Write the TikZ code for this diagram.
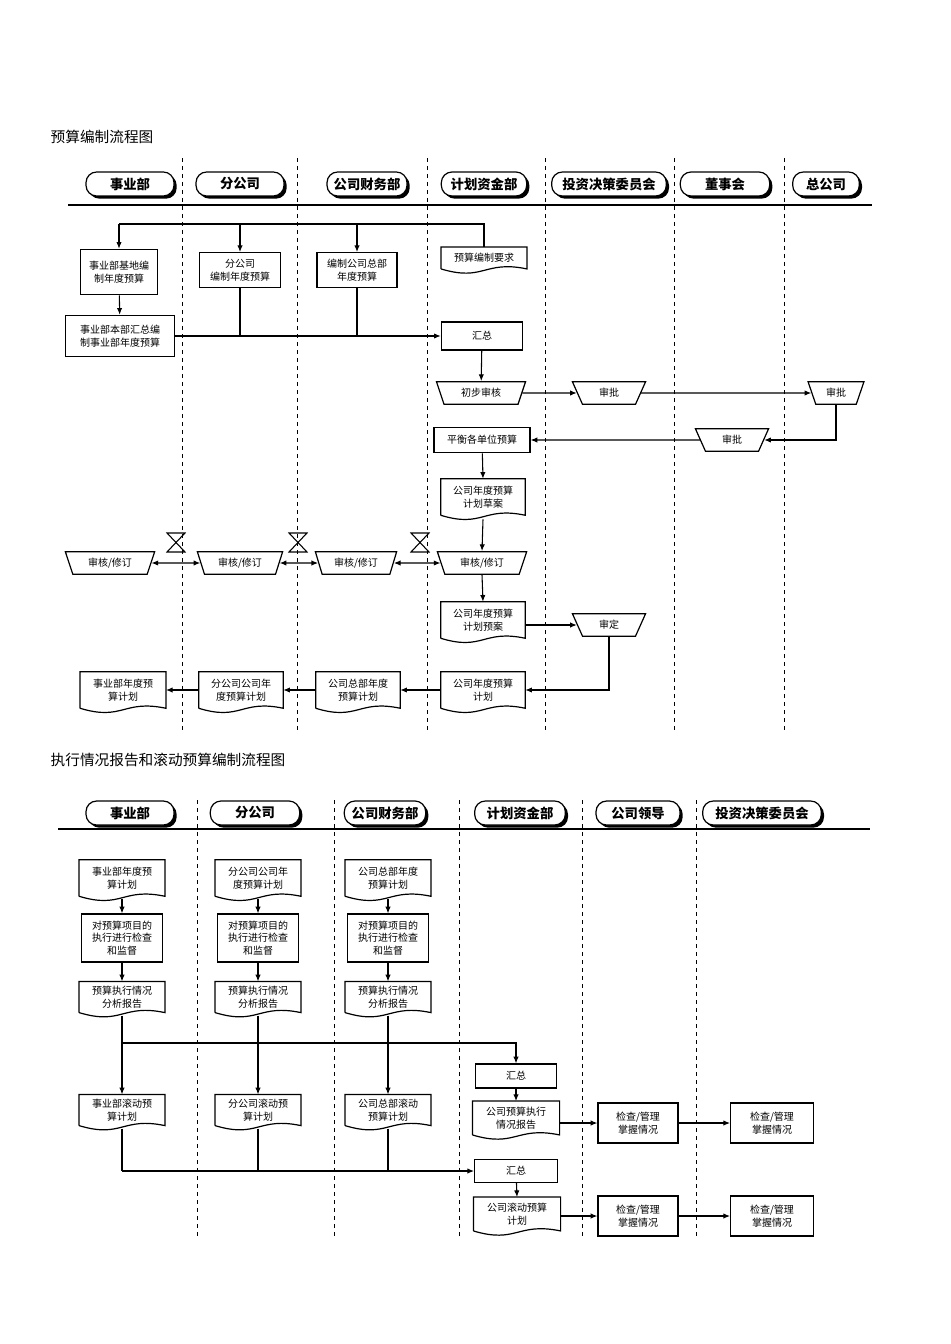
\documentclass[tikz,border=0pt]{standalone}
\usepackage{fontspec}
\setmainfont{Noto Sans CJK SC}
\usetikzlibrary{shapes.geometric,shadows,calc,arrows.meta}
\newcommand\fz{\fontsize{7.5}{9.5}\selectfont}
\newcommand\docshape[1]{\draw[line width=0.9pt] (#1.south west) -- (#1.north west) -- (#1.north east) -- (#1.south east) .. controls ($(#1.south)+(0,-9)$) and ($(#1.south)+(0,13)$) .. (#1.south west);}
\newcommand\hourglass[1]{\draw[line width=0.8pt] (#1-9,533) -- (#1+9,533) -- (#1-9,552) -- (#1+9,552) -- cycle;}
\tikzset{
 box/.style={draw,line width=0.9pt,align=center,font=\fz,inner sep=1pt,fill=white},
 doc/.style={align=center,font=\fz,inner sep=1pt},
 trap/.style={draw,line width=0.9pt,trapezium,shape border rotate=180,trapezium stretches=true,trapezium angle=70,font=\fz,inner sep=1pt,minimum height=17pt,fill=white},
 hdr/.style={draw,line width=0.9pt,rounded corners=8pt,fill=white,drop shadow={shadow xshift=2pt,shadow yshift=-2pt,fill=black,opacity=1},minimum height=18pt,font=\bfseries\fontsize{10}{12}\selectfont},
 lane/.style={dashed,line width=0.6pt},
 arr/.style={-{Latex[length=5pt,width=4pt]},line width=0.8pt},
 barr/.style={{Latex[length=5pt,width=4pt]}-{Latex[length=5pt,width=4pt]},line width=0.8pt},
 ln/.style={line width=0.8pt}
}
\begin{document}
\begin{tikzpicture}[x=0.75pt,y=-0.75pt]
\useasboundingbox[fill=white] (0,0) rectangle (950,1344);
\node[anchor=west,font=\fontsize{11}{13}\selectfont] (t1) at (46,137) {预算编制流程图};
\node[anchor=west,font=\fontsize{11}{13}\selectfont] (t2) at (46,760) {执行情况报告和滚动预算编制流程图};
% ---------- diagram 1
\foreach \x in {182,297,427,545,674,784} \draw[lane] (\x,158) -- (\x,730);
\draw[line width=1.2pt] (68,205) -- (872,205);
\node[hdr,minimum width=66pt] (h11) at (130,184) {事业部};
\node[hdr,minimum width=66pt] (h12) at (240,184) {分公司};
\node[hdr,minimum width=60pt] (h13) at (367,184) {公司财务部};
\node[hdr,minimum width=64pt] (h14) at (484,184) {计划资金部};
\node[hdr,minimum width=86pt] (h15) at (609,184) {投资决策委员会};
\node[hdr,minimum width=67pt] (h16) at (725,184) {董事会};
\node[hdr,minimum width=50pt] (h17) at (826,184) {总公司};

\node[box,minimum width=58pt,minimum height=34pt] (a1) at (119,272) {事业部基地编\\制年度预算};
\node[box,minimum width=82pt,minimum height=31pt] (a2) at (120,336) {事业部本部汇总编\\制事业部年度预算};
\node[box,minimum width=61pt,minimum height=26pt] (b1) at (240,270) {分公司\\编制年度预算};
\node[box,minimum width=60pt,minimum height=26pt] (c1) at (357,270) {编制公司总部\\年度预算};
\node[doc,minimum width=64pt,minimum height=16pt] (d0) at (484,258) {预算编制要求}; \docshape{d0}
\node[box,minimum width=61pt,minimum height=21pt] (d1) at (482,336) {汇总};
\node[trap,minimum width=67pt] (d2) at (481,393) {初步审核};
\node[trap,minimum width=55pt] (e1) at (609,393) {审批};
\node[trap,minimum width=42pt] (g1) at (836,393) {审批};
\node[trap,minimum width=55pt] (f1) at (732,440) {审批};
\node[box,minimum width=72pt,minimum height=19pt] (d3) at (482,440) {平衡各单位预算};
\node[doc,minimum width=63pt,minimum height=27pt] (d4) at (483,497) {公司年度预算\\计划草案}; \docshape{d4}
\node[trap,minimum width=67pt] (r1) at (110,563) {审核/修订};
\node[trap,minimum width=64pt] (r2) at (240,563) {审核/修订};
\node[trap,minimum width=61pt] (r3) at (356,563) {审核/修订};
\node[trap,minimum width=67pt] (r4) at (482,563) {审核/修订};
\hourglass{176}\hourglass{298}\hourglass{420}
\node[doc,minimum width=63pt,minimum height=27pt] (d5) at (483,620) {公司年度预算\\计划预案}; \docshape{d5}
\node[trap,minimum width=55pt] (e2) at (609,625) {审定};
\node[doc,minimum width=64pt,minimum height=27pt] (p1) at (123,690) {事业部年度预\\算计划}; \docshape{p1}
\node[doc,minimum width=63pt,minimum height=27pt] (p2) at (241,690) {分公司公司年\\度预算计划}; \docshape{p2}
\node[doc,minimum width=63pt,minimum height=27pt] (p3) at (358,690) {公司总部年度\\预算计划}; \docshape{p3}
\node[doc,minimum width=63pt,minimum height=27pt] (p4) at (483,690) {公司年度预算\\计划}; \docshape{p4}
\coordinate (bus1) at (0,224);
\draw[ln] (d0.north) |- (a1.north |- bus1);
\draw[arr] (a1.north |- bus1) -- (a1.north);
\draw[arr] (b1.north |- bus1) -- (b1.north);
\draw[arr] (c1.north |- bus1) -- (c1.north);
\draw[arr] (a1) -- (a2);
\draw[arr] (a2.east) -- (d1.west);
\draw[ln] (b1.south) -- (b1.south |- d1.west);
\draw[ln] (c1.south) -- (c1.south |- d1.west);
\draw[arr] (d1) -- (d2);
\draw[arr] (d2.east) -- (e1.west);
\draw[arr] (e1.east) -- (g1.west);
\draw[arr] (g1.south) |- (f1.east);
\draw[arr] (f1.west) -- (d3.east);
\draw[arr] (d3) -- (d4.north);
\draw[arr] ($(d4.south)+(0,4)$) -- (r4.north);
\draw[barr] (r1.east) -- (r2.west);
\draw[barr] (r2.east) -- (r3.west);
\draw[barr] (r3.east) -- (r4.west);
\draw[arr] (r4.south) -- (d5.north);
\draw[arr] (d5.east |- e2.west) -- (e2.west);
\draw[arr] (e2.south) |- (p4.east);
\draw[arr] (p4.west) -- (p3.east);
\draw[arr] (p3.west) -- (p2.east);
\draw[arr] (p2.west) -- (p1.east);
% ---------- diagram 2
\begin{scope}
\clip (0,790) rectangle (950,1236);
\foreach \x in {197,334,459,582,696} \draw[lane] (\x,800) -- (\x,1236);
\draw[line width=1.2pt] (58,829) -- (870,829);
\node[hdr,minimum width=66pt] (h21) at (130,813) {事业部};
\node[hdr,minimum width=67pt] (h22) at (255,813) {分公司};
\node[hdr,minimum width=61pt] (h23) at (385,813) {公司财务部};
\node[hdr,minimum width=68pt] (h24) at (520,813) {计划资金部};
\node[hdr,minimum width=63pt] (h25) at (638,813) {公司领导};
\node[hdr,minimum width=89pt] (h26) at (762,813) {投资决策委员会};

\node[doc,minimum width=64pt,minimum height=27pt] (q1) at (122,878) {事业部年度预\\算计划}; \docshape{q1}
\node[doc,minimum width=64pt,minimum height=27pt] (q2) at (258,878) {分公司公司年\\度预算计划}; \docshape{q2}
\node[doc,minimum width=64pt,minimum height=27pt] (q3) at (388,878) {公司总部年度\\预算计划}; \docshape{q3}
\node[box,minimum width=61pt,minimum height=36pt] (m1) at (122,938) {对预算项目的\\执行进行检查\\和监督};
\node[box,minimum width=61pt,minimum height=36pt] (m2) at (258,938) {对预算项目的\\执行进行检查\\和监督};
\node[box,minimum width=61pt,minimum height=36pt] (m3) at (388,938) {对预算项目的\\执行进行检查\\和监督};
\node[doc,minimum width=64pt,minimum height=23pt] (s1) at (122,997) {预算执行情况\\分析报告}; \docshape{s1}
\node[doc,minimum width=64pt,minimum height=23pt] (s2) at (258,997) {预算执行情况\\分析报告}; \docshape{s2}
\node[doc,minimum width=64pt,minimum height=23pt] (s3) at (388,997) {预算执行情况\\分析报告}; \docshape{s3}
\node[doc,minimum width=64pt,minimum height=23pt] (u1) at (122,1110) {事业部滚动预\\算计划}; \docshape{u1}
\node[doc,minimum width=64pt,minimum height=23pt] (u2) at (258,1110) {分公司滚动预\\算计划}; \docshape{u2}
\node[doc,minimum width=64pt,minimum height=23pt] (u3) at (388,1110) {公司总部滚动\\预算计划}; \docshape{u3}
\node[box,minimum width=61pt,minimum height=18pt] (k1) at (516,1076) {汇总};
\node[doc,minimum width=65pt,minimum height=25pt] (k2) at (516,1118) {公司预算执行\\情况报告}; \docshape{k2}
\node[box,minimum width=60pt,minimum height=30pt] (k3) at (638,1123) {检查/管理\\掌握情况};
\node[box,minimum width=62pt,minimum height=30pt] (k4) at (772,1123) {检查/管理\\掌握情况};
\node[box,minimum width=62pt,minimum height=17pt] (n1) at (516,1171) {汇总};
\node[doc,minimum width=65pt,minimum height=25pt] (n2) at (517,1214) {公司滚动预算\\计划}; \docshape{n2}
\node[box,minimum width=60pt,minimum height=30pt] (n3) at (638,1216) {检查/管理\\掌握情况};
\node[box,minimum width=62pt,minimum height=30pt] (n4) at (772,1216) {检查/管理\\掌握情况};
\foreach \i in {1,2,3}{
 \draw[arr] ($(q\i.south)+(0,3)$) -- (m\i.north);
 \draw[arr] (m\i.south) -- (s\i.north);
 \draw[arr] ($(s\i.south)+(0,3)$) -- (u\i.north);
 \draw[ln] ($(u\i.south)+(0,3)$) -- (u\i.south |- n1.west);
}
\draw[arr] (s1.south |- 0,1043) -| (k1.north);
\draw[arr] (k1) -- (k2.north);
\draw[arr] (k2.east |- k3.west) -- (k3.west);
\draw[arr] (k3.east) -- (k4.west);
\draw[arr] (u1.south |- n1.west) -- (n1.west);
\draw[arr] (n1) -- (n2.north);
\draw[arr] (n2.east |- n3.west) -- (n3.west);
\draw[arr] (n3.east) -- (n4.west);
\end{scope}
\end{tikzpicture}
\end{document}
